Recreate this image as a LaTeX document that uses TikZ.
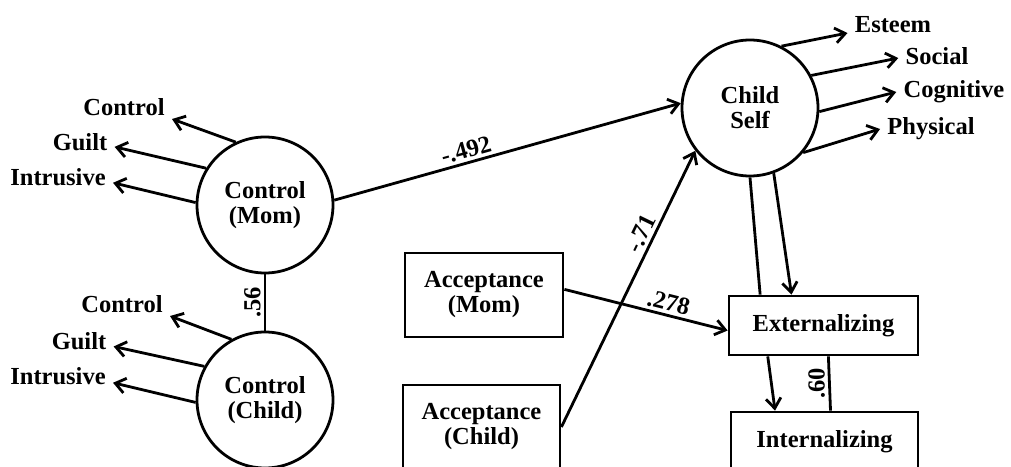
\documentclass[tikz,border=0pt]{standalone}
\usepackage{fontspec}
\setmainfont{Liberation Serif}
\usetikzlibrary{positioning,arrows.meta,calc}

\begin{document}
\begin{tikzpicture}[
      x=1pt, y=-1pt,
      font=\fontsize{24.5}{25}\selectfont\bfseries,
      line width=2.8pt,
      box/.style={draw, align=center, inner sep=0pt},
      circ/.style={draw, circle, align=center, minimum size=136pt, inner sep=0pt},
      ind/.style={inner xsep=6pt, inner ysep=2pt},
      wt/.style={inner sep=3pt},
      arr/.style={-{Straight Barb[length=10pt,width=15pt]}},
    ]
    \useasboundingbox (0,0) rectangle (1011,466);
    \clip (0,0) rectangle (1011,466);

    \node[circ] (cm) at (265,205) {Control\\(Mom)};
    \node[circ] (cc) at (265,400) {Control\\(Child)};
    \node[circ] (cs) at (750,108) {Child\\Self};

    \node[box, minimum width=158pt, minimum height=84pt] (am) at (484,295) {Acceptance\\(Mom)};
    \node[box, minimum width=157pt, minimum height=84pt] (ac) at (481.5,427) {Acceptance\\(Child)};
    \node[box, minimum width=189pt, minimum height=59pt] (ext) at (823.5,325.5) {Externalizing};
    \node[box, minimum width=187pt, minimum height=59pt] (int) at (824.5,441.5) {Internalizing};

    % indicators of the mother's control
    \node[ind] (mcon) at (124,107) {Control};
    \node[ind] (mgui) at (80,142) {Guilt};
    \node[ind] (mint) at (58,177) {Intrusive};
    \draw[arr] (cm.115) -- (mcon.south east);
    \draw[arr] (cm.148) -- (mgui.-8);
    \draw[arr] (cm.178) -- (mint.-6);

    % indicators of the child's control
    \node[ind] (ccon) at (122,304) {Control};
    \node[ind] (cgui) at (79,341) {Guilt};
    \node[ind] (cint) at (58,376) {Intrusive};
    \draw[arr] (cc.119) -- (ccon.south east);
    \draw[arr] (cc.151) -- (cgui.-9);
    \draw[arr] (cc.182) -- (cint.-7);

    % indicators of the child's self
    \node[ind] (sest) at (893,25) {Esteem};
    \node[ind] (ssoc) at (937,56) {Social};
    \node[ind] (scog) at (954,92) {Cognitive};
    \node[ind] (sphy) at (931,129) {Physical};
    \draw[arr] (cs.63) -- (sest.190);
    \draw[arr] (cs.28) -- (ssoc.183);
    \draw[arr] (cs.-3) -- (scog.west);
    \draw[arr] (cs.-40) -- (sphy.west);

    \draw (cm) -- node[wt, midway, anchor=south, rotate=90] {.56} (cc);
    \draw[arr] (cm.4) -- node[wt, above, sloped, pos=0.39] {-.492} (cs.176);
    \draw[arr] (ac.east) -- node[wt, above, sloped, pos=0.68] {-.71} (cs.218);
    \draw[arr] (am.4) -- node[wt, above, sloped, pos=0.62] {.278} (ext.183);

    \draw (cs.south) -- (ext.154);
    \draw[arr] (cs.-70) -- (ext.136);
    \draw[arr] (ext.209) -- (int.148);
    \draw (ext.-81) -- node[wt, midway, anchor=south, rotate=90] {.60} (int.79);
  \end{tikzpicture}
\end{document}
